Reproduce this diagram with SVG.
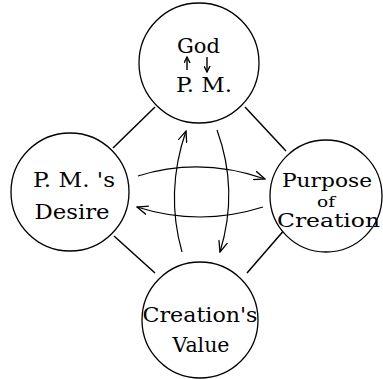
<svg xmlns="http://www.w3.org/2000/svg" width="383" height="379" viewBox="0 0 383 379">
<defs>
<marker id="ah" viewBox="0 0 12 10" refX="11" refY="5" markerWidth="12" markerHeight="10" markerUnits="userSpaceOnUse" orient="auto">
<path d="M0,0.5 L11,5 L0,9.5" fill="none" stroke="#000" stroke-width="1.3"/>
</marker>
<marker id="sh" viewBox="0 0 8 8" refX="7" refY="4" markerWidth="7" markerHeight="7" markerUnits="userSpaceOnUse" orient="auto">
<path d="M0,0.5 L7,4 L0,7.5" fill="none" stroke="#000" stroke-width="1.5"/>
</marker>
</defs>
<style>
.c{fill:#fff;stroke:#000;stroke-width:1.3}
.l{fill:none;stroke:#000;stroke-width:1.5}
.a{fill:none;stroke:#000;stroke-width:1.2;marker-end:url(#ah)}
.t{font-family:"DejaVu Serif","Liberation Serif",serif;font-size:20px;fill:#000;text-anchor:middle}
.s{font-size:18px}
.o{font-size:15px}
</style>
<g id="connectors">
<line class="l" x1="113" y1="148" x2="155" y2="107"/>
<line class="l" x1="245" y1="107" x2="286" y2="151"/>
<line class="l" x1="114" y1="236" x2="155" y2="273"/>
<line class="l" x1="286" y1="228" x2="247" y2="273"/>
<path class="a" d="M138,176 Q200,156.5 265,179"/>
<path class="a" d="M263,207 Q200,227 137,207"/>
<path class="a" d="M182,252 Q165,192 186,131"/>
<path class="a" d="M217,130 Q239,190 220,252"/>
</g>
<g id="god">
<circle class="c" cx="199" cy="63" r="60"/>
<text class="t" x="198.5" y="53" textLength="43" lengthAdjust="spacingAndGlyphs">God</text>
<text class="t" x="204" y="92" textLength="56" lengthAdjust="spacingAndGlyphs">P. M.</text>
<line x1="187" y1="70" x2="187" y2="57" stroke="#000" stroke-width="1.4" marker-end="url(#sh)"/>
<line x1="207" y1="57" x2="207" y2="72" stroke="#000" stroke-width="1.4" marker-end="url(#sh)"/>
</g>
<g id="desire">
<circle class="c" cx="70" cy="192" r="59"/>
<text class="t" x="74" y="187" textLength="82" lengthAdjust="spacingAndGlyphs">P. M. 's</text>
<text class="t" x="72" y="219" textLength="75" lengthAdjust="spacingAndGlyphs">Desire</text>
</g>
<g id="purpose">
<circle class="c" cx="326" cy="196" r="56"/>
<text class="t s" x="327" y="187" textLength="90" lengthAdjust="spacingAndGlyphs">Purpose</text>
<text class="t o" x="326" y="207" textLength="18" lengthAdjust="spacingAndGlyphs">of</text>
<text class="t s" x="328.5" y="227" textLength="103" lengthAdjust="spacingAndGlyphs">Creation</text>
</g>
<g id="value">
<circle class="c" cx="200" cy="320" r="58"/>
<text class="t" x="200" y="322" textLength="115" lengthAdjust="spacingAndGlyphs">Creation's</text>
<text class="t" x="201" y="352" textLength="57" lengthAdjust="spacingAndGlyphs">Value</text>
</g>
</svg>
